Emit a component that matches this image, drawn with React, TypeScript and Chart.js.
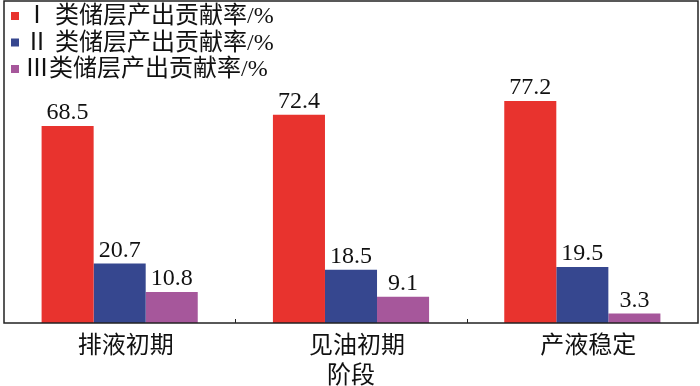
import React, { useEffect, useRef } from "react";
import { Chart, registerables } from "chart.js";

Chart.register(...registerables);

const categories = ["排液初期", "见油初期", "产液稳定"];
const seriesNames = ["Ⅰ 类储层产出贡献率/%", "Ⅱ 类储层产出贡献率/%", "Ⅲ类储层产出贡献率/%"];
const type1Values = [68.5, 72.4, 77.2];
const type2Values = [20.7, 18.5, 19.5];
const type3Values = [10.8, 9.1, 3.3];
const seriesColors = ["#E8332E", "#36478F", "#A6579B"];
const xTitle = "阶段";

const FONT = "'Liberation Serif', 'Times New Roman', 'Noto Sans CJK SC', serif";

const framePlugin = {
  id: "frame",
  afterDraw(chart: any) {
    const { ctx, chartArea } = chart;
    const { left, right, top, bottom } = chartArea;
    ctx.save();
    ctx.strokeStyle = "#222";
    ctx.lineWidth = 1.5;
    ctx.strokeRect(left, top, right - left, bottom - top);
    const xs = chart.scales.x;
    const n = categories.length;
    const w = (right - left) / n;
    ctx.lineWidth = 1;
    for (let i = 1; i < n; i++) {
      const x = Math.round(xs.getPixelForValue(i) - w / 2) + 0.5;
      ctx.beginPath();
      ctx.moveTo(x, bottom);
      ctx.lineTo(x, bottom - 4);
      ctx.stroke();
    }
    ctx.restore();
  },
};

const labelsPlugin = {
  id: "valueLabels",
  afterDatasetsDraw(chart: any) {
    const { ctx } = chart;
    ctx.save();
    ctx.font = `24px ${FONT}`;
    ctx.fillStyle = "#111";
    ctx.textAlign = "center";
    ctx.textBaseline = "bottom";
    chart.data.datasets.forEach((ds: any, di: number) => {
      const meta = chart.getDatasetMeta(di);
      meta.data.forEach((bar: any, i: number) => {
        ctx.fillText(String(ds.data[i]), bar.x, bar.y - 1);
      });
    });
    ctx.restore();
  },
};

const legendPlugin = {
  id: "customLegend",
  afterDraw(chart: any) {
    const { ctx, chartArea } = chart;
    ctx.save();
    ctx.font = `24px ${FONT}`;
    ctx.textBaseline = "middle";
    ctx.textAlign = "left";
    chart.data.datasets.forEach((ds: any, i: number) => {
      const cy = chartArea.top + 15 + i * 26.5;
      ctx.fillStyle = ds.backgroundColor;
      ctx.fillRect(chartArea.left + 7, cy - 4, 8, 8);
      ctx.fillStyle = "#111";
      ctx.fillText(ds.label, chartArea.left + 21, cy + 1);
    });
    ctx.restore();
  },
};

export default function App() {
  const ref = useRef<HTMLCanvasElement>(null);
  useEffect(() => {
    if (!ref.current) return;
    const values = [type1Values, type2Values, type3Values];
    const chart = new Chart(ref.current, {
      type: "bar",
      data: {
        labels: categories,
        datasets: values.map((v, i) => ({
          label: seriesNames[i],
          data: v,
          backgroundColor: seriesColors[i],
          borderWidth: 0,
          barPercentage: 1,
          categoryPercentage: 0.675,
        })),
      },
      options: {
        animation: false,
        responsive: false,
        maintainAspectRatio: false,
        layout: { padding: { left: 4, right: 2, top: 1, bottom: 0 } },
        plugins: {
          legend: { display: false },
          tooltip: { enabled: false },
        },
        scales: {
          x: {
            afterFit: (s: any) => {
              s.height = 63;
            },
            grid: { display: false, drawTicks: false },
            border: { display: false },
            ticks: {
              padding: 9,
              labelOffset: 6,
              color: "#111",
              font: { family: FONT, size: 24 },
            },
            title: {
              display: true,
              text: xTitle,
              color: "#111",
              padding: { top: 0, bottom: -5 },
              font: { family: FONT, size: 24 },
            },
          },
          y: {
            display: false,
            min: 0,
            max: 112,
          },
        },
      },
      plugins: [framePlugin, labelsPlugin, legendPlugin],
    });
    return () => chart.destroy();
  }, []);
  return (
    <div style={{ position: "fixed", left: 0, top: 0, width: 700, height: 386, background: "#fff" }}>
      <canvas ref={ref} width={700} height={386} style={{ width: 700, height: 386 }} />
    </div>
  );
}
